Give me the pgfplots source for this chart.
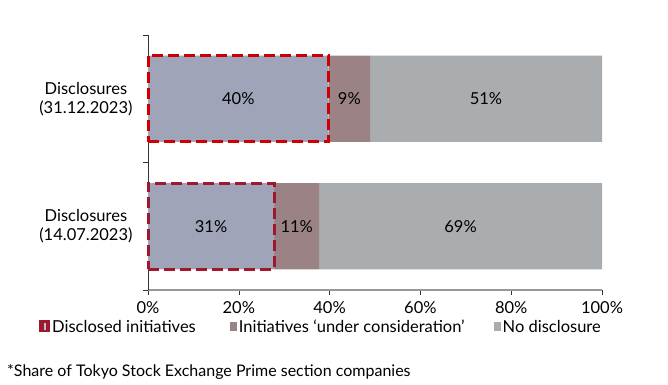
\documentclass[border=0pt]{standalone}
\usepackage{pgfplots}
\pgfplotsset{compat=1.18}
\usepackage{fontspec}
\setmainfont{Lato}
\definecolor{cblue}{HTML}{A0A4B8}
\definecolor{cbrown}{HTML}{9A8285}
\definecolor{cgrey}{HTML}{A9ADAF}
\definecolor{cred}{HTML}{CC0000}
\definecolor{cdred}{HTML}{A01830}
\newcommand{\ff}{\fontsize{16.5bp}{19bp}\selectfont}
\begin{document}
\begin{tikzpicture}[x=1bp,y=1bp]
\useasboundingbox (0,0) rectangle (668,384);
\pgfplotsset{common/.style={at={(148bp,94bp)}, anchor=south west, width=454bp, height=255bp, scale only axis, xmin=0, xmax=100, ymin=-0.5, ymax=1.5}}
\begin{axis}[common, xbar stacked, bar width=0.675,
  axis x line*=bottom, axis y line*=left,
  x axis line style={draw=black!40, line width=1.5bp},
  y axis line style={draw=black!80, line width=0.6bp},
  tick align=outside, major tick length=5bp,
  tick style={draw=black!80, line width=0.6bp},
  xtick={0,20,40,60,80,100},
  xticklabels={0\%,20\%,40\%,60\%,80\%,100\%},
  xticklabel style={yshift=-3bp},
  ytick={-0.5,0.5,1.5}, yticklabels={},
  extra y ticks={0,1},
  extra y tick labels={{Disclosures\\(14.07.2023)},{Disclosures\\(31.12.2023)}},
  extra y tick style={major tick length=0pt, tick style={draw=none}, yticklabel style={align=center, xshift=-12bp}},
  every tick label/.append style={font=\ff},
  legend columns=3,
  legend style={draw=none, fill=none, at={(-0.24,-0.145)}, anchor=west, font=\ff,
    /tikz/column 2/.style={column sep=32bp}, /tikz/column 4/.style={column sep=27bp}, inner sep=0pt},
  legend cell align=left,
]
\addplot[fill=cblue, draw=none, legend image code/.code={
   \fill[cdred] (0bp,-5.5bp) rectangle (11bp,6.5bp);
   \fill[cblue!70!white] (4.5bp,-3bp) rectangle (7bp,3.5bp);}]
  coordinates {(27.8,0) (39.8,1)};
\addlegendentry{Disclosed initiatives}
\addplot[fill=cbrown, draw=none, legend image code/.code={
   \fill[cbrown] (1bp,-4bp) rectangle (8bp,5bp);}]
  coordinates {(9.9,0) (9.1,1)};
\addlegendentry{Initiatives ‘under consideration’}
\addplot[fill=cgrey, draw=none, legend image code/.code={
   \fill[cgrey] (1bp,-4bp) rectangle (8bp,5bp);}]
  coordinates {(62.3,0) (51.1,1)};
\addlegendentry{No disclosure}
\end{axis}
\begin{axis}[common, hide axis, clip=false]
\addplot[xbar, bar shift=0pt, bar width=0.675, fill=none, draw=cred, line width=3bp, dash pattern=on 11bp off 5bp]
  coordinates {(39.8,1)};
\addplot[xbar, bar shift=0pt, bar width=0.675, fill=none, draw=cdred, line width=3bp, dash pattern=on 11bp off 5bp]
  coordinates {(27.8,0)};
\addplot[only marks, mark=*, mark size=0pt, mark options={draw opacity=0, fill opacity=0},
  nodes near coords, point meta=explicit symbolic,
  every node near coord/.append style={anchor=center, font=\ff, text=black, text opacity=1}]
  coordinates {(19.9,1)[40\%] (44.35,1)[9\%] (74.45,1)[51\%] (13.9,0)[31\%] (32.75,0)[11\%] (68.85,0)[69\%]};
\end{axis}
\node[anchor=west, font=\fontsize{16bp}{19bp}\selectfont, inner sep=0pt] at (7,12) {*Share of Tokyo Stock Exchange Prime section companies};
\end{tikzpicture}
\end{document}
